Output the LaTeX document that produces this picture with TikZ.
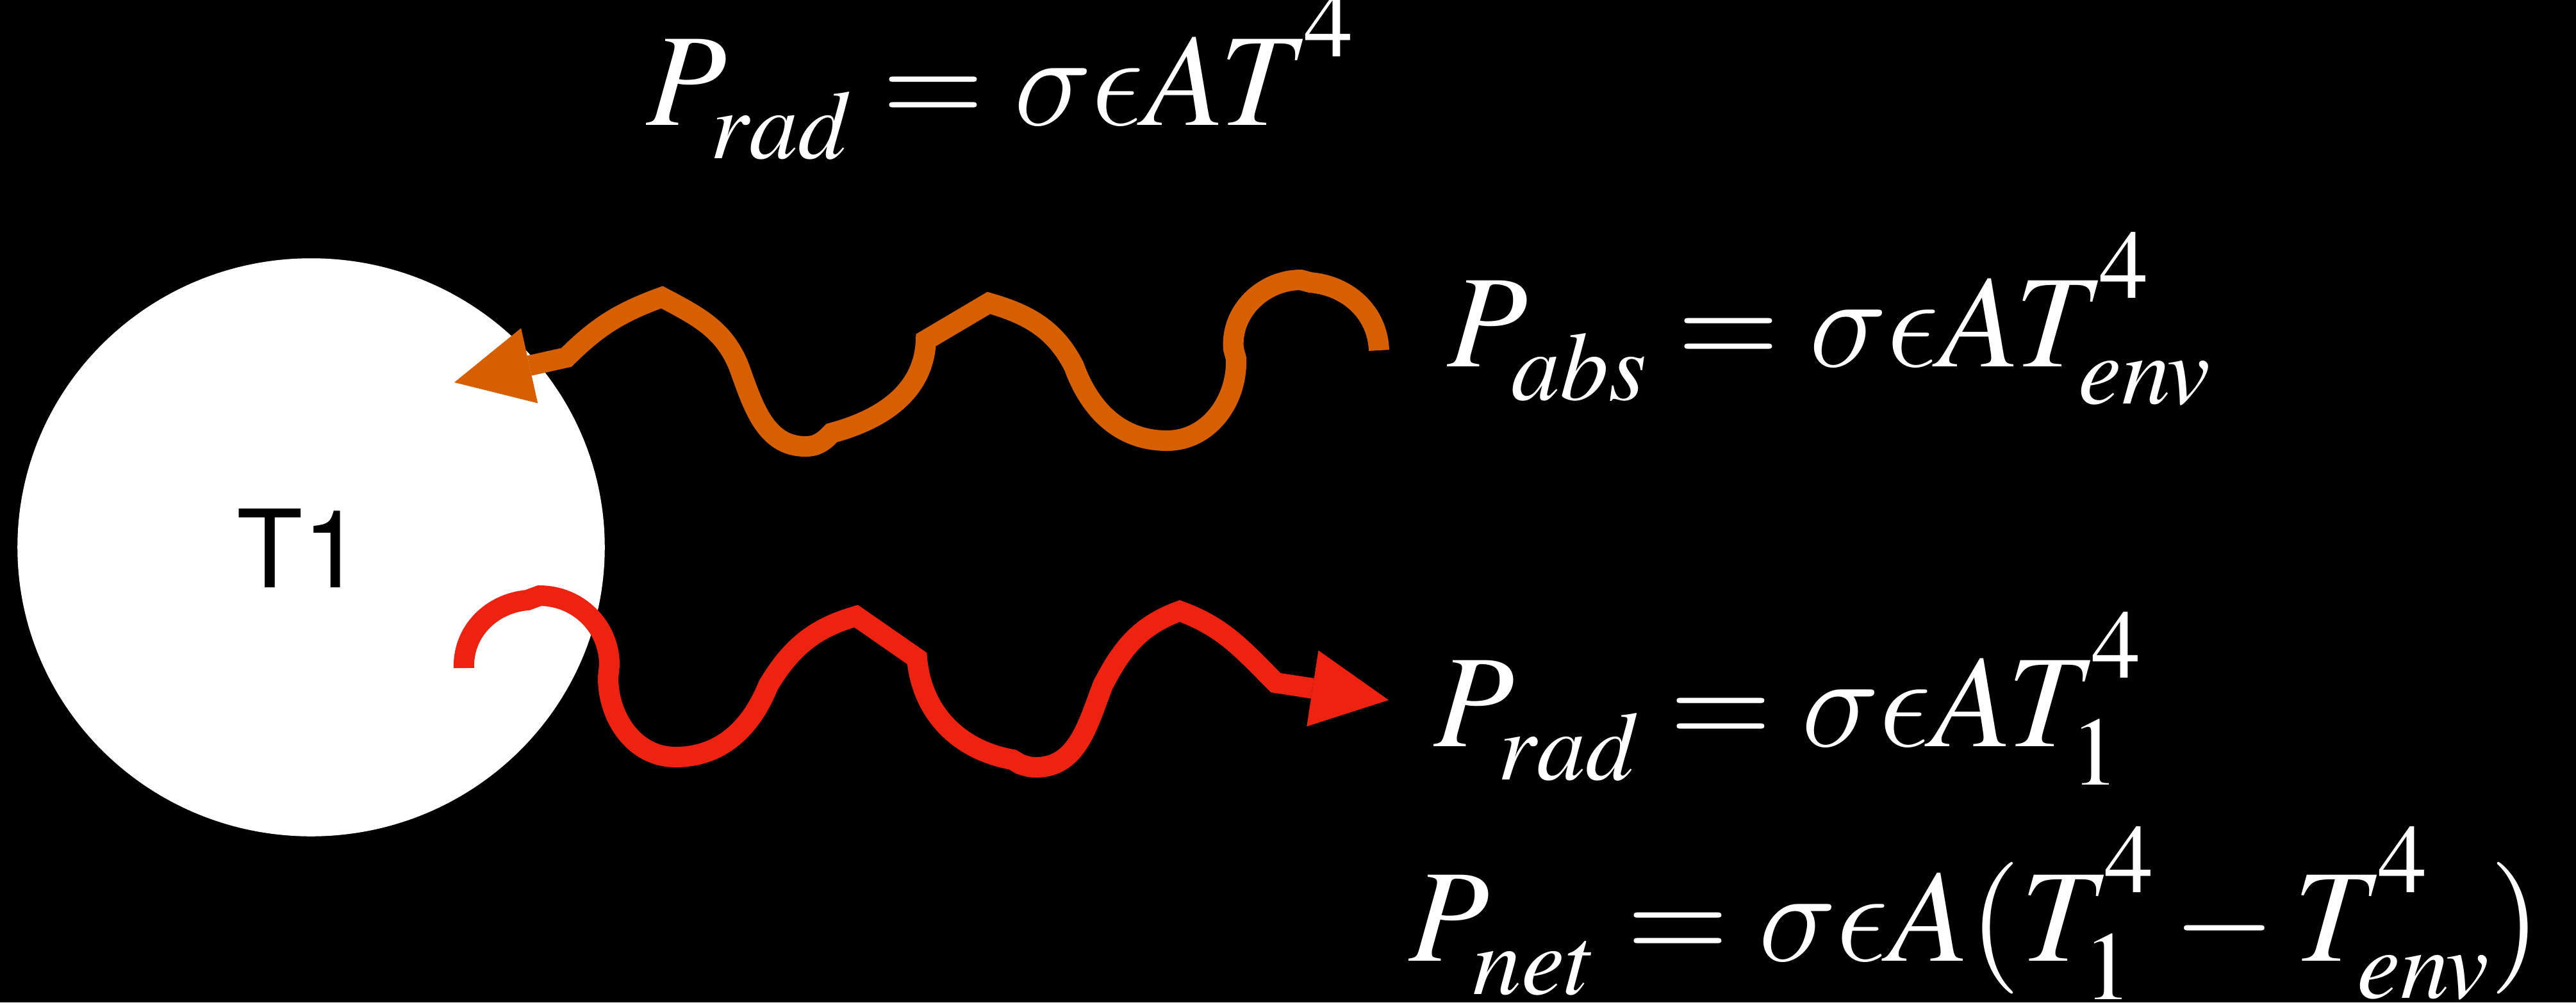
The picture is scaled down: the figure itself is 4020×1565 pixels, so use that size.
\documentclass[tikz,border=0pt]{standalone}
\usepackage{mathptmx}
\usepackage[no-math]{fontspec}
\newfontfamily\heros{TeX Gyre Heros}
\DeclareFontFamily{OML}{mycmm}{\skewchar\font'177}
\DeclareFontShape{OML}{mycmm}{m}{it}{<-> cmmi12}{}
\DeclareSymbolFont{cmletters}{OML}{mycmm}{m}{it}
\DeclareMathSymbol{\cmsigma}{\mathord}{cmletters}{"1B}
\DeclareMathSymbol{\cmepsilon}{\mathord}{cmletters}{"0F}
\newcommand\fixscripts{\fontdimen16\textfont2=15pt \fontdimen17\textfont2=16.5pt\relax}
\newcommand\upfour{^{\raisebox{9pt}{\kern-2.5pt$\scriptstyle 4$}}}
\usetikzlibrary{arrows.meta,shapes.geometric}
\definecolor{orng}{HTML}{D65F00}
\definecolor{redw}{HTML}{EE2210}
\begin{document}
\begin{tikzpicture}[x=0.01cm,y=0.01cm,
  wave/.style={line width=0.32cm, -{Triangle[length=1.2cm,width=1.2cm,line width=0pt]}},
  eq/.style={text=white, inner sep=0pt, anchor=base west, font=\fontsize{58.5}{70}\selectfont},
  bodystyle/.style={ellipse, fill=white, draw=none, minimum width=9.16cm, minimum height=9.02cm, inner sep=0pt}]
\fill[black] (0,0) rectangle (4020,-1565);
\useasboundingbox (0,0) rectangle (4020,-1565);
% body
\node[bodystyle] (body) at (485.5,-854.5) {};
\node[inner sep=0pt, text=black, font=\heros\fontsize{48}{56}\selectfont] (T1) at (468,-855.5) {T1};
% absorbed (orange)
\draw[wave, orng] (2152,-547) to[out=92,in=-5] (2045,-441) -- (2030,-437)
  to[out=180,in=95] (1925,-545) -- (1929,-560)
  to[out=-88,in=0] (1821,-688)
  to[out=180,in=-70] (1676,-572)
  to[out=117,in=-16] (1543,-473) -- (1445,-531)
  to[out=-92,in=15] (1298,-676) -- (1290,-684)
  to[out=-140,in=0] (1257,-697)
  to[out=180,in=-70] (1153,-572)
  to[out=112,in=-28] (1033,-464)
  to[out=200,in=45] (884,-558) -- (709,-597);
% radiated (red)
\draw[wave, redw] (724,-1043) to[out=92,in=185] (823,-937) -- (842,-930)
  to[out=0,in=90] (951,-1038) -- (949,-1058)
  to[out=-90,in=180] (1054,-1182)
  to[out=0,in=-112] (1199,-1070)
  to[out=59,in=-164] (1336,-962) -- (1431,-1028)
  to[out=-85,in=170] (1580,-1186) -- (1592,-1193)
  to[out=-20,in=180] (1617,-1198)
  to[out=0,in=-111] (1721,-1070)
  to[out=63,in=-160] (1841,-954)
  to[out=-20,in=135] (1991,-1066) -- (2167,-1093);
% formulas
\node[eq] (frad) at (1008,-195) {$\fixscripts P_{rad} = \cmsigma\cmepsilon A T\upfour$};
\node[eq] (fabs) at (2258,-572) {$\fixscripts P_{abs} = \cmsigma\cmepsilon A T\upfour_{env}$};
\node[eq] (frad1) at (2237,-1165) {$\fixscripts P_{rad} = \cmsigma\cmepsilon A T\upfour_1$};
\node[eq] (fnet) at (2198,-1500) {$\fixscripts P_{net} = \cmsigma\cmepsilon A(T\upfour_1 - T\upfour_{env})$};
\end{tikzpicture}
\end{document}
